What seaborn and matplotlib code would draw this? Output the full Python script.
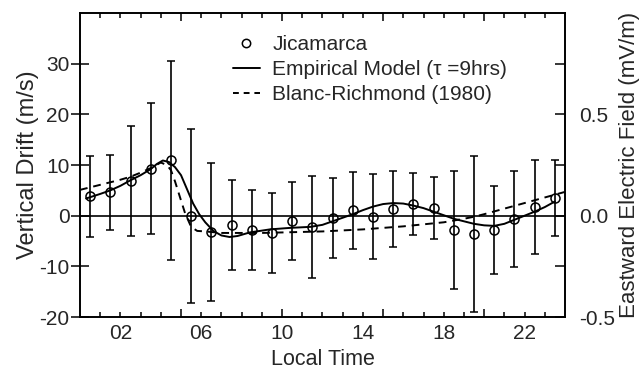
import matplotlib
matplotlib.use("Agg")
import matplotlib.pyplot as plt
import seaborn as sns
from matplotlib.lines import Line2D
from matplotlib.ticker import FixedLocator, FuncFormatter

# Jicamarca hourly means with standard deviations
hours = [0.5, 1.5, 2.5, 3.5, 4.5, 5.5, 6.5, 7.5, 8.5, 9.5, 10.5, 11.5,
         12.5, 13.5, 14.5, 15.5, 16.5, 17.5, 18.5, 19.5, 20.5, 21.5, 22.5, 23.5]
drift = [3.8, 4.6, 6.8, 9.3, 10.9, -0.1, -3.2, -1.9, -2.9, -3.4, -1.1, -2.2,
         -0.4, 1.1, -0.2, 1.3, 2.3, 1.5, -2.8, -3.6, -2.8, -0.7, 1.7, 3.4]
drift_err = [8.0, 7.4, 10.9, 13.0, 19.7, 17.2, 13.6, 8.9, 7.9, 7.9, 7.7, 10.0,
             7.9, 7.6, 8.4, 7.5, 6.1, 6.1, 11.7, 15.4, 8.7, 9.5, 9.3, 7.5]

# Empirical model (tau = 9 hrs)
model_hours = [0.3, 1.0, 1.5, 2.0, 2.5, 3.0, 3.5, 3.8, 4.1, 4.4, 4.7, 5.0, 5.3,
               5.6, 5.9, 6.2, 6.6, 7.0, 7.4, 7.8, 8.4, 9.4, 10.4, 11.4, 12.0,
               12.5, 13.0, 13.5, 14.0, 14.5, 15.0, 15.5, 16.0, 16.5, 17.0, 17.5,
               18.0, 18.5, 19.0, 19.5, 20.0, 20.5, 21.0, 21.5, 22.0, 22.5, 23.0, 23.5]
model_drift = [3.4, 4.3, 5.0, 5.9, 7.0, 8.0, 9.2, 10.2, 10.9, 10.6, 9.6, 8.0, 5.2,
               2.4, 0.3, -1.3, -3.0, -3.9, -4.2, -4.0, -3.3, -2.7, -2.4, -2.2, -1.8,
               -1.1, -0.4, 0.3, 1.1, 1.8, 2.3, 2.5, 2.4, 2.0, 1.5, 0.8,
               0.1, -0.6, -1.1, -1.6, -1.9, -2.0, -1.6, -0.8, 0.0, 0.8, 1.7, 2.8]

# Blanc-Richmond (1980)
br_hours = [0.0, 1.0, 2.0, 2.5, 3.0, 3.5, 4.0, 4.3, 4.5, 4.7, 5.0, 5.2, 5.5, 5.8,
            6.2, 7.0, 8.0, 9.0, 10.0, 11.0, 12.0, 13.0, 14.0, 15.0, 16.0, 17.0,
            18.0, 19.0, 19.5, 20.0, 21.0, 22.0, 23.0, 24.0]
br_drift = [5.1, 6.1, 7.1, 7.7, 8.5, 9.4, 10.5, 10.0, 9.0, 6.8, 3.0, 0.5, -2.2, -3.0,
            -3.1, -3.4, -3.4, -3.4, -3.3, -3.2, -3.1, -2.9, -2.7, -2.4, -2.1, -1.7,
            -1.3, -0.6, -0.2, 0.3, 1.4, 2.5, 3.6, 4.7]

labelled_hours = [2, 6, 10, 14, 18, 22]
long_tick_hours = [5, 10, 15, 20]
field_ticks = [-0.5, -0.25, 0.0, 0.25, 0.5, 0.75]
field_labels = ["-0.5", "", "0.0", "", "0.5", ""]

sns.set_theme(style="ticks")
plt.rcParams["font.family"] = ["Liberation Sans", "DejaVu Sans"]
plt.rcParams["axes.unicode_minus"] = False

fig, ax = plt.subplots(figsize=(6.42, 3.73), dpi=100)
fig.subplots_adjust(left=0.1246, right=0.880, top=0.965, bottom=0.150)

ax.axhline(0, color="black", lw=1.2, zorder=1)
sns.lineplot(x=model_hours, y=model_drift, ax=ax, color="black", lw=1.4,
             estimator=None, sort=False)
sns.lineplot(x=br_hours, y=br_drift, ax=ax, color="black", lw=1.4,
             linestyle=(0, (4, 3)), estimator=None, sort=False)
ax.errorbar(hours, drift, yerr=drift_err, fmt="o", ms=6.5, mfc="none", mec="black",
            mew=1.1, ecolor="black", elinewidth=1.2, capsize=3, capthick=1.2,
            color="black", zorder=3)

ax.set_xlim(0, 24)
ax.set_ylim(-20, 40)
ax.set_yticks([-20, -10, 0, 10, 20, 30])
ax.xaxis.set_major_locator(FixedLocator(long_tick_hours))
ax.xaxis.set_minor_locator(FixedLocator(list(range(1, 24))))
fmt = FuncFormatter(lambda v, p: f"{int(round(v)):02d}" if int(round(v)) in labelled_hours else "")
ax.xaxis.set_major_formatter(fmt)
ax.xaxis.set_minor_formatter(fmt)
ax.tick_params(axis="x", which="major", direction="in", length=6, width=1.1,
               top=True, bottom=True, labelsize=15, pad=5, color="black")
ax.tick_params(axis="x", which="minor", direction="in", length=3.5, width=1.1,
               top=True, bottom=True, labelsize=15, pad=5, color="black")
ax.tick_params(axis="y", direction="inout", length=13, width=1.1, labelsize=15,
               pad=1, right=False, color="black")

ax.set_xlabel("Local Time", fontsize=15.5, labelpad=4)
ax.set_ylabel("Vertical Drift (m/s)", fontsize=17, labelpad=0)

ax2 = ax.twinx()
ax2.set_ylim(-0.5, 1.0)
ax2.set_yticks(field_ticks)
ax2.set_yticklabels(field_labels)
ax2.tick_params(axis="y", direction="in", length=7, width=1.1, labelsize=15,
                pad=10, color="black")
ax2.set_ylabel("Eastward Electric Field (mV/m)", fontsize=16, labelpad=3)

for a in (ax, ax2):
    for s in a.spines.values():
        s.set_linewidth(1.2)
        s.set_color("black")
        s.set_visible(True)

handles = [
    Line2D([], [], marker="o", ls="none", ms=6, mfc="none", mec="black", mew=1.1),
    Line2D([], [], color="black", lw=1.4),
    Line2D([], [], color="black", lw=1.4, linestyle=(0, (3, 2.5))),
]
labels = ["Jicamarca", "Empirical Model (\u03c4 =9hrs)", "Blanc-Richmond (1980)"]
ax.legend(handles, labels, loc="upper left", bbox_to_anchor=(0.315, 0.928),
          frameon=False, fontsize=15, borderaxespad=0, borderpad=0,
          labelspacing=0.3, handlelength=1.3, handletextpad=0.6)

fig.savefig("out.png", dpi=100)
